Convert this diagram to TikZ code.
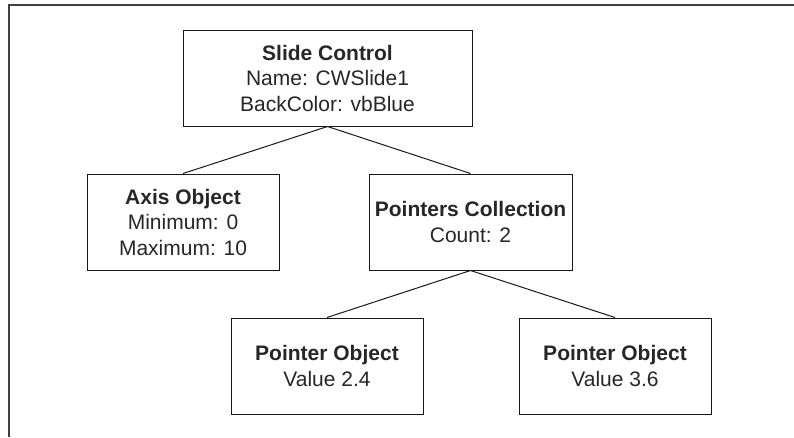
\documentclass[tikz,border=0pt]{standalone}
\usepackage{fontspec}
\setmainfont{Liberation Sans}
\begin{document}
\begin{tikzpicture}[x=1pt,y=-1pt,
  box/.style={draw=black!90, line width=1pt, rectangle, inner sep=0pt, align=center,
    font=\fontsize{21}{25.5}\selectfont, text=black!85},
  link/.style={draw=black!90, line width=1pt}]
\useasboundingbox (0,0) rectangle (794,437);
\draw[line width=1.3pt, black!75] (9,437) -- (9,5) -- (794,5);
\node[box, minimum width=289pt, minimum height=96pt] (slide) at (327.5,78)
  {\textbf{Slide Control}\\Name: CWSlide1\\BackColor: vbBlue};
\node[box, minimum width=192pt, minimum height=96pt] (axis) at (183,222)
  {\textbf{Axis Object}\\Minimum: 0\\Maximum: 10};
\node[box, minimum width=203pt, minimum height=96pt] (ptrs) at (470.5,222)
  {\textbf{Pointers Collection}\\Count: 2};
\node[box, minimum width=192pt, minimum height=96pt] (p1) at (327,366)
  {\textbf{Pointer Object}\\Value 2.4};
\node[box, minimum width=192pt, minimum height=96pt] (p2) at (615,366)
  {\textbf{Pointer Object}\\Value 3.6};
\draw[link] (slide.south) -- (axis.north);
\draw[link] (slide.south) -- (ptrs.north);
\draw[link] (ptrs.south) -- (p1.north);
\draw[link] (ptrs.south) -- (p2.north);
\end{tikzpicture}
\end{document}
